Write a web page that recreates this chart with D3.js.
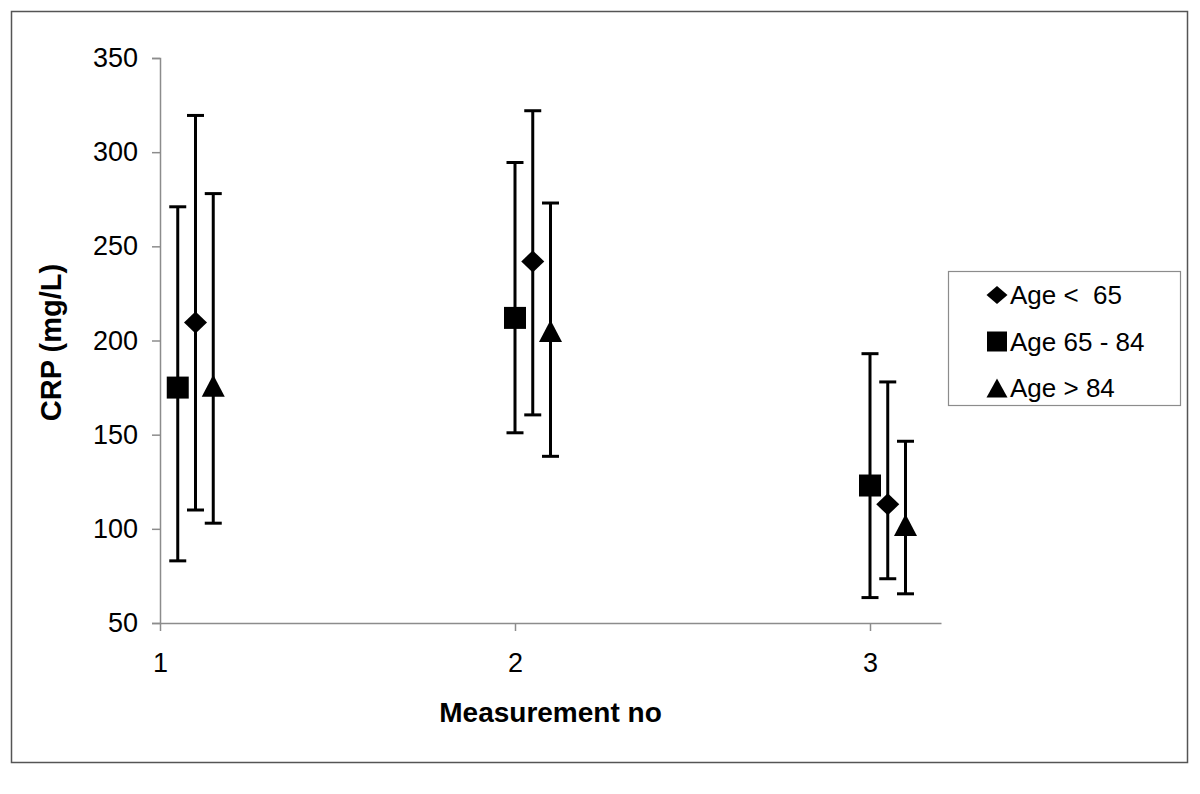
<!DOCTYPE html>
<html>
<head>
<meta charset="utf-8">
<script src="https://cdn.jsdelivr.net/npm/d3@7"></script>
<style>
  html, body { margin: 0; padding: 0; background: #fff; }
  svg { display: block; }
  text { font-family: "Liberation Sans", Arial, sans-serif; fill: #000; }
</style>
</head>
<body>
<svg id="chart" width="1200" height="794"></svg>
<script>
// ---- data ----
const seriesNames = ["Age <  65", "Age 65 - 84", "Age > 84"];
const seriesSymbols = ["diamond", "square", "triangle"];
const measurementTicks = [1, 2, 3];
const yTicks = [50, 100, 150, 200, 250, 300, 350];

const under65X    = [1.10, 2.05, 3.05];
const under65Mean = [209.5, 242, 113];
const under65Low  = [110, 160.5, 73.5];
const under65High = [319.5, 322, 178];

const age65to84X    = [1.05, 2.00, 3.00];
const age65to84Mean = [175, 212, 123];
const age65to84Low  = [83, 151, 63.5];
const age65to84High = [271, 294.5, 193];

const over84X    = [1.15, 2.10, 3.10];
const over84Mean = [176, 205, 102];
const over84Low  = [103, 138.5, 65.5];
const over84High = [278, 273, 146.5];

const series = [
  { name: seriesNames[0], symbol: seriesSymbols[0], x: under65X, mean: under65Mean, lo: under65Low, hi: under65High },
  { name: seriesNames[1], symbol: seriesSymbols[1], x: age65to84X, mean: age65to84Mean, lo: age65to84Low, hi: age65to84High },
  { name: seriesNames[2], symbol: seriesSymbols[2], x: over84X, mean: over84Mean, lo: over84Low, hi: over84High }
];

// ---- layout ----
const svg = d3.select("#chart");
const plot = { left: 160, right: 941, top: 58, bottom: 623 };

const x = d3.scaleLinear().domain([1, 3.2]).range([plot.left, plot.right]);
const y = d3.scaleLinear().domain([50, 350]).range([plot.bottom, plot.top]);

// outer frame
svg.append("rect")
  .attr("x", 11.5).attr("y", 11.5)
  .attr("width", 1176).attr("height", 751)
  .attr("fill", "none").attr("stroke", "#555").attr("stroke-width", 1.5);

const axisColor = "#8c8c8c";

// y axis
const yAxis = svg.append("g")
  .attr("transform", `translate(${plot.left},0)`)
  .call(d3.axisLeft(y).tickValues(yTicks).tickSize(8).tickPadding(14).tickFormat(d3.format("d")));
yAxis.select(".domain").attr("stroke", axisColor).attr("stroke-width", 1.5);
yAxis.selectAll(".tick line").attr("stroke", axisColor).attr("stroke-width", 1.5);
yAxis.selectAll(".tick text")
  .attr("font-family", "Liberation Sans, Arial, sans-serif")
  .attr("font-size", 27).attr("fill", "#000");

// x axis
const xAxis = svg.append("g")
  .attr("transform", `translate(0,${plot.bottom})`)
  .call(d3.axisBottom(x).tickValues(measurementTicks).tickSize(8).tickPadding(22).tickFormat(d3.format("d")).tickSizeOuter(0));
xAxis.select(".domain").attr("stroke", axisColor).attr("stroke-width", 1.5);
xAxis.selectAll(".tick line").attr("stroke", axisColor).attr("stroke-width", 1.5);
xAxis.selectAll(".tick text")
  .attr("font-family", "Liberation Sans, Arial, sans-serif")
  .attr("font-size", 27).attr("fill", "#000");

// axis titles
svg.append("text")
  .attr("x", (plot.left + plot.right) / 2).attr("y", 722)
  .attr("text-anchor", "middle")
  .attr("font-size", 28).attr("font-weight", "bold")
  .text("Measurement no");

svg.append("text")
  .attr("transform", `translate(61,${(plot.top + plot.bottom) / 2 + 2}) rotate(-90)`)
  .attr("text-anchor", "middle")
  .attr("font-size", 29).attr("font-weight", "bold")
  .text("CRP (mg/L)");

// symbols (w = full width, h = full height)
function symbolPath(kind, w, h) {
  const p = d3.path();
  const hw = w / 2, hh = h / 2;
  if (kind === "diamond") {
    p.moveTo(0, -hh); p.lineTo(hw, 0); p.lineTo(0, hh); p.lineTo(-hw, 0); p.closePath();
  } else if (kind === "square") {
    p.rect(-hw, -hh, w, h);
  } else {
    p.moveTo(0, -hh); p.lineTo(hw, hh); p.lineTo(-hw, hh); p.closePath();
  }
  return p.toString();
}
const markerDims = { diamond: [23, 22], square: [22, 22], triangle: [23, 22] };

// error bars + markers
const capHalf = 8.5;
series.forEach(s => {
  const g = svg.append("g");
  const pts = s.x.map((xv, i) => ({ x: xv, mean: s.mean[i], lo: s.lo[i], hi: s.hi[i] }));
  g.selectAll("line.err").data(pts).join("line")
    .attr("x1", d => x(d.x)).attr("x2", d => x(d.x))
    .attr("y1", d => y(d.lo)).attr("y2", d => y(d.hi))
    .attr("stroke", "#000").attr("stroke-width", 3);
  g.selectAll("line.capHi").data(pts).join("line")
    .attr("x1", d => x(d.x) - capHalf).attr("x2", d => x(d.x) + capHalf)
    .attr("y1", d => y(d.hi)).attr("y2", d => y(d.hi))
    .attr("stroke", "#000").attr("stroke-width", 3);
  g.selectAll("line.capLo").data(pts).join("line")
    .attr("x1", d => x(d.x) - capHalf).attr("x2", d => x(d.x) + capHalf)
    .attr("y1", d => y(d.lo)).attr("y2", d => y(d.lo))
    .attr("stroke", "#000").attr("stroke-width", 3);
  const [w, h] = markerDims[s.symbol];
  g.selectAll("path.marker").data(pts).join("path")
    .attr("d", symbolPath(s.symbol, w, h))
    .attr("transform", d => `translate(${x(d.x)},${y(d.mean)})`)
    .attr("fill", "#000");
});

// legend
const legend = svg.append("g");
legend.append("rect")
  .attr("x", 948.5).attr("y", 271.5)
  .attr("width", 232).attr("height", 134)
  .attr("fill", "#fff").attr("stroke", "#8c8c8c").attr("stroke-width", 1.2);

const legendDims = { diamond: [21, 18], square: [20, 20], triangle: [21, 19] };
series.forEach((s, i) => {
  const cy = 295 + i * 46.5;
  const [w, h] = legendDims[s.symbol];
  legend.append("path")
    .attr("d", symbolPath(s.symbol, w, h))
    .attr("transform", `translate(997,${cy})`)
    .attr("fill", "#000");
  legend.append("text")
    .attr("x", 1010).attr("y", cy + 9)
    .attr("font-size", 26)
    .attr("xml:space", "preserve")
    .style("white-space", "pre")
    .text(s.name);
});
</script>
</body>
</html>
